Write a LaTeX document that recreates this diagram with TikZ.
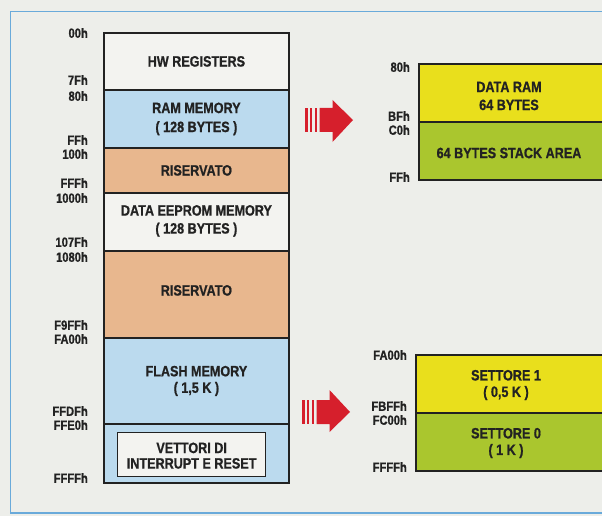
\documentclass[tikz,border=0pt]{standalone}
\usepackage{fontspec}
\usetikzlibrary{calc}
\setmainfont{Liberation Sans Bold}[FakeStretch=0.84, FakeBold=0.9]
\definecolor{bgc}{HTML}{EDEEEA}
\definecolor{framec}{HTML}{6AAADA}
\definecolor{whitec}{HTML}{F3F3F0}
\definecolor{bluec}{HTML}{BBDAEE}
\definecolor{tanc}{HTML}{E8B78E}
\definecolor{yelc}{HTML}{E9DF1C}
\definecolor{grnc}{HTML}{AAC62E}
\definecolor{redc}{HTML}{D61F2C}
\definecolor{inkc}{HTML}{222222}
\begin{document}
\begin{tikzpicture}[x=1pt,y=-1pt,
  every node/.style={text=inkc},
  memblk/.style={draw=inkc, line width=1.8pt, anchor=north west, inner sep=0pt},
  blktxt/.style={inner sep=0pt, align=center, font=\fontsize{15}{19}\selectfont},
  addr/.style={anchor=east, inner sep=0pt, font=\fontsize{13.3}{14}\selectfont},
  bigarrow/.style={fill=redc, draw=none}
]
\useasboundingbox (0,0) rectangle (602,516);
\clip (0,0) rectangle (602,516);
\fill[bgc] (0,0) rectangle (602,516);
\draw[framec, line width=1.6pt] (10.5,11.5) rectangle (640,513);

% left memory map
\node[memblk, fill=whitec, minimum width=185pt, minimum height=57pt] (hw) at (103,32) {};
\node[memblk, fill=bluec, minimum width=185pt, minimum height=58pt] (ram) at (103,89) {};
\node[memblk, fill=tanc, minimum width=185pt, minimum height=45pt] (ris1) at (103,147) {};
\node[memblk, fill=whitec, minimum width=185pt, minimum height=58pt] (eep) at (103,192) {};
\node[memblk, fill=tanc, minimum width=185pt, minimum height=87pt] (ris2) at (103,250) {};
\node[memblk, fill=bluec, minimum width=185pt, minimum height=86pt] (flash) at (103,337) {};
\node[memblk, fill=bluec, minimum width=185pt, minimum height=59pt] (vecarea) at (103,423) {};
\node[draw=inkc, line width=1.3pt, fill=whitec, anchor=north west, inner sep=0pt,
  minimum width=148pt, minimum height=44pt] (vec) at (117,432) {};

\node[blktxt] (thw) at ($(hw.center)+(0,0)$) {HW REGISTERS};
\node[blktxt] (tram) at ($(ram.center)+(0,0)$) {RAM MEMORY\\( 128 BYTES )};
\node[blktxt] (tris1) at ($(ris1.center)+(0,0)$) {RISERVATO};
\node[blktxt, font=\fontsize{15}{18}\selectfont] (teep) at ($(eep.center)+(0,-1)$) {DATA EEPROM MEMORY\\( 128 BYTES )};
\node[blktxt] (tris2) at ($(ris2.center)+(0,-4)$) {RISERVATO};
\node[blktxt, font=\fontsize{15}{16.5}\selectfont] (tflash) at ($(flash.center)+(0,0)$) {FLASH MEMORY\\( 1,5 K )};
\node[blktxt, font=\fontsize{15}{15.5}\selectfont] (tvec) at ($(vec.center)+(0,1)$) {VETTORI DI\\INTERRUPT E RESET};

% left addresses
\node[addr] (a00) at (88,33) {00h};
\node[addr] (a7f) at (88,80) {7Fh};
\node[addr] (a80) at (88,96) {80h};
\node[addr] (aff) at (88,140) {FFh};
\node[addr] (a100) at (88,154) {100h};
\node[addr] (afff) at (88,183) {FFFh};
\node[addr] (a1000) at (88,198) {1000h};
\node[addr] (a107f) at (88,242) {107Fh};
\node[addr] (a1080) at (88,257) {1080h};
\node[addr] (af9ff) at (88,325) {F9FFh};
\node[addr] (afa00) at (88,339) {FA00h};
\node[addr] (affdf) at (88,411) {FFDFh};
\node[addr] (affe0) at (88,425) {FFE0h};
\node[addr] (affff) at (88,478) {FFFFh};

% right top map
\node[memblk, fill=yelc, minimum width=200pt, minimum height=58pt] (dram) at (418,63) {};
\node[memblk, fill=grnc, minimum width=200pt, minimum height=58pt] (stack) at (418,121) {};
\node[blktxt, font=\fontsize{15}{18}\selectfont] (tdram) at (509,96) {DATA RAM\\64 BYTES};
\node[blktxt] (tstack) at (509,153) {64 BYTES STACK AREA};
\node[addr] (b80) at (410,67) {80h};
\node[addr] (bbf) at (410,116) {BFh};
\node[addr] (bc0) at (410,130) {C0h};
\node[addr] (bff) at (410,177) {FFh};

% right bottom map
\node[memblk, fill=yelc, minimum width=203pt, minimum height=58pt] (s1) at (415,354) {};
\node[memblk, fill=grnc, minimum width=203pt, minimum height=58pt] (s0) at (415,412) {};
\node[blktxt, font=\fontsize{15}{16.5}\selectfont] (ts1) at (506,385) {SETTORE 1\\( 0,5 K )};
\node[blktxt, font=\fontsize{15}{16.5}\selectfont] (ts0) at (506,443) {SETTORE 0\\( 1 K )};
\node[addr] (cfa00) at (407,355) {FA00h};
\node[addr] (cfbff) at (407,406) {FBFFh};
\node[addr] (cfc00) at (407,420) {FC00h};
\node[addr] (cffff) at (407,467) {FFFFh};

% arrows
\coordinate (ar1) at (305,120);
\fill[redc] ($(ar1)+(0,-12)$) rectangle ++(2.6,24);
\fill[redc] ($(ar1)+(4.8,-12)$) rectangle ++(2.6,24);
\fill[redc] ($(ar1)+(9.6,-12)$) rectangle ++(2.6,24);
\fill[bigarrow] ($(ar1)+(14.5,-12)$) -- ++(13,0) -- ++(0,-8) -- ++(20.5,20) -- ++(-20.5,22) -- ++(0,-10) -- ++(-13,0) -- cycle;

\coordinate (ar2) at (302,412);
\fill[redc] ($(ar2)+(0,-12)$) rectangle ++(2.6,24);
\fill[redc] ($(ar2)+(4.8,-12)$) rectangle ++(2.6,24);
\fill[redc] ($(ar2)+(9.6,-12)$) rectangle ++(2.6,24);
\fill[bigarrow] ($(ar2)+(14.5,-12)$) -- ++(13,0) -- ++(0,-10) -- ++(20.5,22) -- ++(-20.5,20) -- ++(0,-8) -- ++(-13,0) -- cycle;
\end{tikzpicture}
\end{document}
